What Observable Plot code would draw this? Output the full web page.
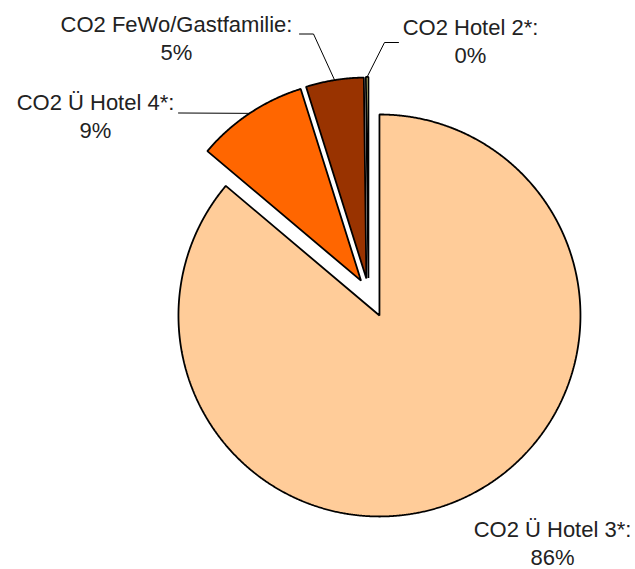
<!DOCTYPE html>
<html><head><meta charset="utf-8">
<script src="https://cdn.jsdelivr.net/npm/d3@7"></script>
<script src="https://cdn.jsdelivr.net/npm/@observablehq/plot@0.6"></script>
<style>html,body{margin:0;padding:0;background:#fff}</style>
</head><body><div id="chart"></div>
<script>
// ---- data ----
const categories = ["CO2 Ü Hotel 3*", "CO2 Ü Hotel 4*", "CO2 FeWo/Gastfamilie", "CO2 Hotel 2*"];
const shares = [86.15, 9.0, 4.65, 0.2];
const percentLabels = ["86%", "9%", "5%", "0%"];
const colors = ["#FFCC99", "#FF6600", "#993300", "#FFFF99"];

// ---- layout ----
const W = 635, H = 569, cx = 368, cy = 291.4, R = 201;
const explode = [26, 13.5, 13.5, 14];
// label anchor (center x, cap-top y) and leader-line elbow/end points
const labelPos = [[552, 517], [95, 90], [176, 12], [470, 15]];
const leaderPath = [null, [[178, 112.5]], [[313, 33.5], [299, 33.5]], [[384, 42], [398, 42]]];

const arcs = d3.pie().sort(null).value(d => d)(shares);
const slices = arcs.map((a, i) => {
  const mid = (a.startAngle + a.endAngle) / 2;
  const ox = cx + explode[i] * Math.sin(mid), oy = cy - explode[i] * Math.cos(mid);
  const n = Math.max(2, Math.ceil((a.endAngle - a.startAngle) / 0.005));
  const pts = [{x: ox, y: oy}];
  for (let k = 0; k <= n; k++) {
    const t = a.startAngle + (a.endAngle - a.startAngle) * k / n;
    pts.push({x: ox + R * Math.sin(t), y: oy - R * Math.cos(t)});
  }
  return {i, pts, mx: ox + R * Math.sin(mid), my: oy - R * Math.cos(mid)};
});

const leaders = [];
slices.forEach(s => {
  const p = leaderPath[s.i];
  if (!p) return;
  leaders.push({k: s.i, x: s.mx, y: s.my});
  p.forEach(([x, y]) => leaders.push({k: s.i, x, y}));
});

const labels = categories.map((c, i) => ({
  text: c + ":\n" + percentLabels[i], x: labelPos[i][0], y: labelPos[i][1]
}));

const chart = Plot.plot({
  width: W, height: H, margin: 0,
  x: {domain: [0, W], range: [0, W], axis: null},
  y: {domain: [0, H], range: [0, H], axis: null},
  style: {fontFamily: "'Liberation Sans', Arial, sans-serif", background: "#fff"},
  marks: [
    ...slices.map(s => Plot.line(s.pts, {
      x: "x", y: "y", curve: "linear-closed",
      fill: colors[s.i], stroke: "#000", strokeWidth: 1.8, strokeLinejoin: "miter"
    })),
    Plot.line(leaders, {x: "x", y: "y", z: "k", stroke: "#000", strokeWidth: 1}),
    Plot.text(labels, {
      x: "x", y: "y", text: "text", textAnchor: "middle", lineAnchor: "top",
      fontSize: 22, lineHeight: 1.25, fill: "#222"
    })
  ]
});
document.getElementById("chart").appendChild(chart);
</script>
</body></html>
